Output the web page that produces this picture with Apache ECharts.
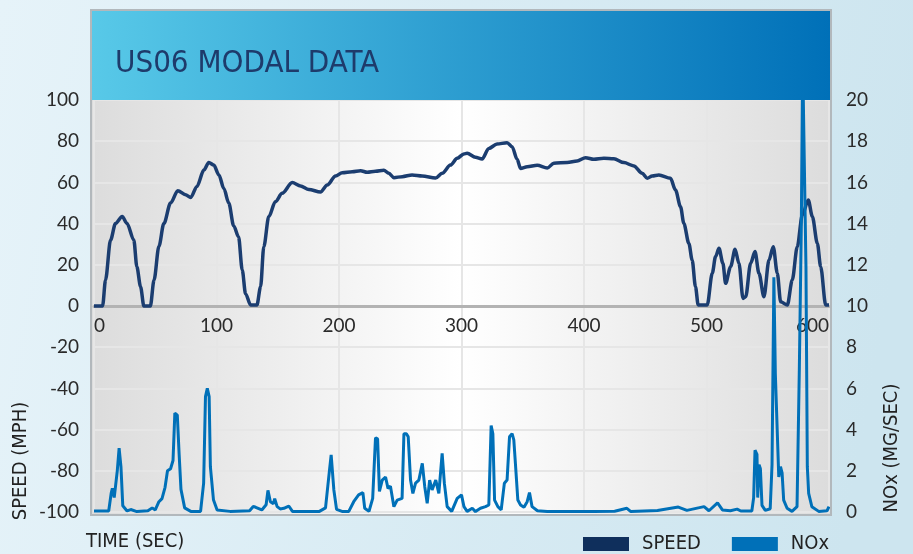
<!DOCTYPE html>
<html>
<head>
<meta charset="utf-8">
<title>US06 MODAL DATA</title>
<script src="https://cdn.jsdelivr.net/npm/echarts@6/dist/echarts.min.js"></script>
<style>
  html, body { margin: 0; padding: 0; }
  #chart { width: 913px; height: 554px; }
</style>
</head>
<body>
<div id="chart"></div>
<script>
// speed trace (mph) against time (sec)
const speedTime = [0, 7, 9.4, 13.5, 17.5, 23, 27, 32.5, 35, 38, 40.7, 46, 49, 53, 57, 62.5, 68.4, 74.7, 79, 84,
  89.7, 93.7, 97.8, 102, 106, 110, 114, 118, 121, 123.7, 127.8, 133, 136, 138.6, 142.7, 148, 153.6, 161.8, 168.6, 175.4,
  184.9, 190.4, 197.2, 202.6, 210.8, 217.6, 223, 229.8, 236.6, 240.7, 244.8, 251.6, 259.7, 267.9, 278.8, 284.2, 291, 296.5, 301.9, 304.6,
  311.4, 316.8, 322.3, 329, 337.2, 341.3, 345.4, 348.2, 353.6, 361.8, 370, 375.4, 386.3, 394.4, 401.3, 408, 416.2, 424.4, 432.6, 440.7,
  447.5, 451.6, 455.7, 461.1, 470.6, 474.7, 478.8, 481.5, 485.6, 488.3, 491, 493.2, 500.6, 504.7, 507.4, 510.2, 513.4, 515.6, 519.7, 523.3,
  526.5, 529.8, 532, 536, 539.6, 542.8, 546.9, 551, 554.5, 557.8, 560.5, 566, 570, 574.1, 578.2, 583.1, 586.4, 590.5, 593.2, 597.3, 600]
const speedMph = [0, 0, 12.6, 32, 40, 43.4, 40, 32, 19, 9.4, 0, 0, 12.6, 29, 40, 50, 56, 54, 52.7, 58,
  66, 69.7, 68.4, 63.6, 57, 50, 39, 33.6, 17.5, 6, 0.5, 0.5, 9.4, 28.8, 43.4, 50.6, 54.7, 59.9, 58.3, 56.6,
  55.3, 58.7, 63.1, 64.7, 65.2, 65.7, 64.9, 65.4, 65.9, 64.4, 62.3, 62.8, 63.6, 63.1, 62.1, 64.4, 68.4, 71.7, 73.8, 74.1,
  72.2, 71.4, 76.5, 78.6, 79.3, 77.3, 71.2, 66.8, 67.6, 68.3, 67, 69.3, 69.7, 70.4, 72, 71.2, 71.7, 71.5, 69.6, 68,
  64.4, 62, 63.1, 63.6, 62, 56.3, 48.2, 40.1, 30.4, 22.3, 9.4, 0.5, 0.5, 15.9, 24, 28, 20.7, 11, 19.1, 27.5,
  20.7, 3.7, 4.5, 20.7, 26.4, 15.9, 4.5, 22.3, 28.8, 15.9, 2.1, 0.5, 12.6, 28.8, 44.2, 51.5, 43.4, 30.4, 19.1, 0.5, 0.5]

// NOx rate (mg/sec) against time (sec)
const noxTime = [0, 12, 14, 15, 16.5, 19, 20.5, 22, 23.5, 27, 30, 35, 44, 47.5, 50, 53, 55.5, 58, 60, 62.5,
  64.5, 66, 68, 69.5, 71, 74, 79, 87, 89.5, 91, 92.5, 94, 95, 97.5, 100.5, 111, 127, 130, 132, 137,
  140.5, 142, 144, 146.5, 147.5, 149.5, 152, 155, 159, 162, 184, 189, 192, 193.6, 195.8, 198, 203, 208, 212, 216,
  219.5, 221, 224.5, 227.5, 229.8, 231.5, 233, 235.3, 238, 240, 242, 244.8, 247.5, 251.5, 253, 255, 256.5, 258.4, 260.3, 262.5,
  265.2, 268, 270, 272, 274, 276, 279, 281.5, 284.2, 286, 288.3, 292, 296.5, 300, 302, 304.6, 308.8, 311.4, 315.5, 319.6,
  322.3, 324.2, 325.6, 327, 329.7, 332.4, 335, 337.2, 339.2, 341.3, 342.7, 344, 346, 348.2, 351, 353.6, 355.5, 357.6, 362, 370,
  381, 408, 425, 435, 438, 460, 477, 484, 498, 502, 509, 513, 519.5, 525, 528, 537, 538.5, 539.6, 541.2, 541.8,
  542.9, 544, 545.3, 548, 552, 553.5, 555, 556.2, 559, 560.4, 561.7, 563, 565.8, 569.8, 573.9, 575.8, 577.4, 578.5, 580, 581.2,
  582.3, 583.4, 586, 591.6, 598.4, 600]
const noxRate = [0.05, 0.05, 0.9, 1.15, 0.7, 2.0, 3.1, 2.2, 0.3, 0.05, 0.12, 0.02, 0.06, 0.2, 0.1, 0.5, 0.65, 1.2, 2.0, 2.1,
  2.5, 4.8, 4.7, 2.8, 1.1, 0.2, 0.03, 0.03, 1.4, 5.6, 6.0, 5.6, 2.2, 0.6, 0.1, 0.03, 0.06, 0.27, 0.23, 0.1,
  0.35, 1.05, 0.5, 0.4, 0.65, 0.26, 0.15, 0.18, 0.29, 0.03, 0.03, 0.2, 1.9, 2.77, 1.07, 0.13, 0.02, 0.03, 0.5, 0.83,
  0.94, 0.18, 0.03, 0.66, 3.6, 3.55, 1.0, 1.55, 1.7, 1.15, 1.25, 0.26, 0.58, 0.66, 3.8, 3.8, 3.65, 1.55, 0.9, 1.4,
  1.55, 2.36, 1.23, 0.42, 1.55, 1.07, 1.55, 0.9, 2.85, 1.4, 0.26, 0.03, 0.66, 0.83, 0.26, 0.03, 0.18, 0.02, 0.18, 0.26,
  0.34, 4.2, 3.8, 0.58, 0.26, 0.1, 1.4, 1.55, 3.65, 3.8, 3.5, 2.36, 0.58, 0.34, 0.23, 0.5, 0.94, 0.26, 0.06, 0.03,
  0.02, 0.02, 0.04, 0.18, 0.03, 0.07, 0.24, 0.08, 0.26, 0.06, 0.44, 0.1, 0.06, 0.14, 0.05, 0.05, 0.7, 3.0, 2.8, 0.7,
  2.3, 2.1, 0.32, 0.08, 0.16, 2.3, 11.4, 6.7, 1.7, 2.2, 1.9, 0.58, 0.18, 0.03, 0.26, 7.0, 13.9, 22, 22, 11.9,
  2.2, 0.9, 0.26, 0.03, 0.06, 0.26]

const speedTicks = { min: -100, max: 100, step: 20 }
const noxTicks = { min: 0, max: 20, step: 2 }
const timeTicks = { min: 0, max: 600, step: 100 }

const numFont = 'Lato'
const narrowFont = '"Liberation Sans Narrow", "DejaVu Sans Condensed", sans-serif'
const navy = '#1b3d70'
const blue = '#0070b8'

const chart = echarts.init(document.getElementById('chart'), null, { renderer: 'canvas' })

chart.setOption({
  animation: false,
  backgroundColor: {
    type: 'linear', x: 0, y: 0, x2: 1, y2: 0.3,
    colorStops: [{ offset: 0, color: '#e6f3f9' }, { offset: 1, color: '#cde5ef' }]
  },
  graphic: [
    // plot panel, title bar and frame
    {
      type: 'rect', z: -10, silent: true,
      shape: { x: 91, y: 100, width: 740, height: 415 },
      style: {
        fill: {
          type: 'linear', x: 0, y: 0, x2: 1, y2: 0,
          colorStops: [
            { offset: 0, color: '#dcdcdc' },
            { offset: 0.5, color: '#ffffff' },
            { offset: 1, color: '#dcdcdc' }
          ]
        }
      }
    },
    {
      type: 'rect', z: 50, silent: true,
      shape: { x: 91, y: 10, width: 740, height: 90 },
      style: {
        fill: {
          type: 'linear', x: 0, y: 0, x2: 1, y2: 0,
          colorStops: [{ offset: 0, color: '#58c9e8' }, { offset: 1, color: '#0070b8' }]
        }
      }
    },
    {
      type: 'rect', z: 51, silent: true,
      shape: { x: 91, y: 10, width: 740, height: 505 },
      style: { fill: null, stroke: '#b2b8bc', lineWidth: 2 }
    },
    {
      type: 'text', z: 52, left: 115, top: 48,
      style: { text: 'US06 MODAL DATA', font: '31px ' + narrowFont, fill: '#1e3b6b' }
    },
    {
      type: 'text', left: 86, top: 532,
      style: { text: 'TIME (SEC)', font: '20px ' + narrowFont, fill: '#222' }
    },
    {
      type: 'text', x: 21, y: 461, rotation: Math.PI / 2,
      style: { text: 'SPEED (MPH)', font: '20px ' + narrowFont, fill: '#222', align: 'center', verticalAlign: 'middle' }
    },
    {
      type: 'text', x: 892, y: 448, rotation: Math.PI / 2,
      style: { text: 'NOx (MG/SEC)', font: '20px ' + narrowFont, fill: '#222', align: 'center', verticalAlign: 'middle' }
    }
  ],
  legend: {
    left: 583, top: 534, padding: 0,
    icon: 'rect', itemWidth: 46, itemHeight: 14, itemGap: 31,
    textStyle: { fontFamily: narrowFont, fontSize: 20, color: '#222', padding: [0, 0, 0, 8] },
    data: [
      { name: 'SPEED', itemStyle: { color: '#0f2f5c' } },
      { name: 'NOx', itemStyle: { color: blue } }
    ]
  },
  grid: { left: 94, right: 84, top: 100, bottom: 42, containLabel: false },
  xAxis: {
    type: 'value',
    min: timeTicks.min, max: timeTicks.max, interval: timeTicks.step,
    // the time axis sits on the speed zero line, halfway up the plot
    offset: -206,
    axisLine: { onZero: false, lineStyle: { color: '#b3b3b3', width: 3 } },
    axisTick: { show: false },
    axisLabel: {
      fontFamily: numFont, fontSize: 19, color: '#2a2a2a', margin: 10,
      alignMinLabel: 'left', alignMaxLabel: 'right'
    },
    splitLine: { show: true, lineStyle: { color: '#e6e6e6', width: 2 } }
  },
  yAxis: [
    {
      type: 'value', position: 'left',
      min: speedTicks.min, max: speedTicks.max, interval: speedTicks.step,
      axisLine: { show: false }, axisTick: { show: false },
      axisLabel: { fontFamily: numFont, fontSize: 19, color: '#2a2a2a', margin: 15 },
      splitLine: { show: true, lineStyle: { color: '#e6e6e6', width: 2 } }
    },
    {
      type: 'value', position: 'right',
      min: noxTicks.min, max: noxTicks.max, interval: noxTicks.step,
      axisLine: { show: false }, axisTick: { show: false },
      axisLabel: { fontFamily: numFont, fontSize: 19, color: '#2a2a2a', margin: 17 },
      splitLine: { show: false }
    }
  ],
  series: [
    {
      name: 'SPEED', type: 'line', yAxisIndex: 0,
      showSymbol: false, smooth: 0.3, smoothMonotone: 'x',
      lineStyle: { color: navy, width: 3.5 },
      itemStyle: { color: navy },
      data: speedTime.map((t, i) => [t, speedMph[i]])
    },
    {
      name: 'NOx', type: 'line', yAxisIndex: 1,
      showSymbol: false, clip: true,
      lineStyle: { color: blue, width: 3 },
      itemStyle: { color: blue },
      data: noxTime.map((t, i) => [t, noxRate[i]])
    }
  ]
})
</script>
</body>
</html>
